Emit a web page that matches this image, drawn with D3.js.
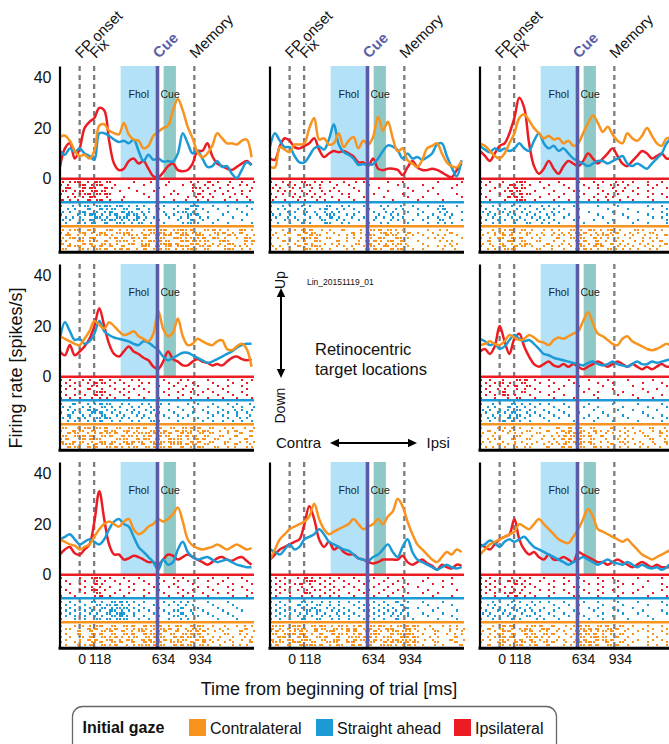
<!DOCTYPE html>
<html><head><meta charset="utf-8">
<script src="https://cdn.jsdelivr.net/npm/d3@7"></script>
<style>body{margin:0;background:#fff}svg{display:block}</style>
</head><body>
<svg id="c" width="669" height="744"></svg>
<script>
// ---------- data ----------
const times = [-160,-120,-80,-40,0,40,80,120,160,200,240,280,320,360,400,440,480,520,560,600,
               640,680,720,760,800,840,880,920,960,1000,1040,1080,1120,1160,1200,1240,1280,1320,1360,1400];
const xDomain = [-160, 1420];
const yDomain = [-29, 44.5];
const yTicks = [0, 20, 40];
const eventTimes = [0, 118, 634, 934];
const eventLabels = ['FP onset', 'Fix', 'Cue', 'Memory'];
const dashedEvents = [0, 118, 934];
const cueTime = 634;
const tickValues = [0, 118, 634, 934];
const tickLabels = ['0', '118', '634', '934'];
const fholWindow = [334, 630];
const cueWindow = [684, 784];
const conditions = ['Contralateral', 'Straight ahead', 'Ipsilateral'];

// PSTH (spikes/s), one value per entry of `times`
const p11Red    = [4.7,12,14,8,12,20,22.5,24,28,27, 15,6,3.4,4,7,8,6,7,4,1, 0.6,2.5,5,6,3.4,3,3.5,6,11,11, 14,9,6,5,4,3.5,4.7,6,7,5.5];
const p11Blue   = [11,9.5,12,10.5,12,10,9,7.5,18,18, 17,15.5,14.5,15,14,15.5,11,7,9.5,7.5, 8,6.8,7,6.8,10,18,14,10,11,8, 4.7,5,7,4.7,5,2,0.3,3.4,6.5,5.3];
const p11Orange = [16.5,17,15,11,9,9.5,8,11,21,21.5, 19,18,17.5,22,17.5,15.5,15,12,13,17, 18.5,20,21,27,31.5,27,20.5,16,10.5,8.5, 10,13,18,16,14,14,13.5,15,15.5,8.5];

const p12Red    = [8,7.5,13,16,15,12.5,12,13,14,16, 11.5,8.6,10,11,10.5,11,10,8.8,6.5,6.5, 5,8,4,3.4,4,4,3.5,1.5,4.5,7, 4.5,3.5,3.5,4,3.5,2.5,1.3,0.6,3.4,6];
const p12Blue   = [12.7,18,15,12.5,12.5,9,6.5,6.5,9,12, 12.7,11.5,15.5,21.5,13.5,10.5,9.5,8,5.5,5.8, 5.5,5.8,8,11,13.2,12.7,11.3,8,10,8, 8.6,7.5,8.5,10,13.5,14,9,4.5,1,7.3];
const p12Orange = [4.7,4.5,12.5,11.5,10.5,13.5,13.5,14,20,24, 15.5,16,13.5,14,18,12.5,15,16.5,12,15, 13.5,16.5,24.5,19,22.5,16,10.8,12,7.3,6, 4.7,7.5,12,13,14,10,6.5,5,4.5,7];

const p13Red    = [11,9,7,10,13,14,18,24,32,28, 14,5,2,4,7,4,2,5,7,6, 5,7,10,8,6,8,10,12,9,6, 5,7,9,11,10,8,9,10,8,8];
const p13Blue   = [13,11.5,10.5,12,11,12,11,12,14,12, 11,15,18,14,12,13,11,12,10,8, 7,6,5,6,7,7,6,7,8,9, 6,5,6,5,4,6,8,10,14,16];
const p13Orange = [14,13,11,9,8,10,14,18,24,25.5, 23,20,18,16,17,15.5,16,14,15,13, 14,18,22,25,22,18.5,20.5,17.5,15,14, 18,16,15,17,20,17,14,13,16,16];

const p21Red    = [10,8.5,12.5,8.5,10,12,15,20,27,20, 13,9,8,10,12,10,9,7.5,6.5,4, 3,6,10,7,6,4.5,4.5,6,7,6, 5.5,4.5,5,4.5,6,7.5,8,7,6.5,7];
const p21Blue   = [15,21.5,18,14.5,15,13,14,17,22,18, 16.5,15.5,15,14.5,14,13,12.5,14,13.5,12, 10.5,8,6.5,7.5,8.5,9.5,9.5,8.5,7.5,6.5, 5.5,6,7,8,9,10,11.5,12.5,13,13];
const p21Orange = [16,15,14,13,12.5,15,18,22,20.5,19, 21.5,20,18,16.5,17,18,16,15,14,17, 26,19,16,17.5,23,16,12.5,13,15,14, 13,12.5,14,14.5,11,10.5,12,13,11,4];

const p23Red    = [10,11,9,12,20,14,9,15,17,12, 8,5,4,5,6,4.5,4,5,4,5, 4,3,4,5,6,5,4,5,6,5, 4,5,4,3,4,3,4,5,4,4];
const p23Blue   = [15,14,12.5,13,11,12,14.5,16.5,15,14, 14.5,13,11,9,8.5,7.5,7,6.5,6,5.5, 5,4.5,5.5,6,5,4.5,5,6,5,4.5, 4,5,6,5,5,6,5.5,6,6.5,7];
const p23Orange = [12.5,13,14,13,12.5,14,16.5,15.5,14.5,15, 16.5,15.5,14,13.5,12.5,14.5,15.5,15,16,17, 18,22,25.5,21,17,16,14.5,13,12.5,15, 16,14,13,12,11,10.5,11,12,13,12];

const p31Red    = [8,10,11,8.5,8,10,12,21,33,22, 12,8,8,6,6.5,7.5,7,6,5,5, 4,6,8,7.5,6,7,8,7,6,5, 4,5,6.5,7,6,5.5,6.5,7,5.5,4];
const p31Blue   = [14,15,16,14,12,13,14,13,12,14, 18,21,22,20,19,15,11,9,7,5, 2,6,4,5,10,13,9,7,6,6.5, 7,6,5,5.5,6,5,4,3.5,3,3];
const p31Orange = [14,13,12,11.5,10,11,12,15,18,20, 21,20,19,21,22,18,16,17,19,20, 22,21,22,24,26.5,21,14,11.5,10.5,10, 10.5,11,12,11,10,11,12,11,10,10.5];

const p32Red    = [6,8,10,11,12,13,14,20,27,22, 14,11,13,10,11,9,8,8,6.5,6, 5,4.5,5,6,6,6,6,7.5,5,4, 5,6,4.5,3.5,2,4,3,2.5,4,3.5];
const p32Blue   = [10,9,8,10,12,10,11,14,15,16, 18,16,13,12,11,10,9.5,8,6.5,6, 5.5,7,8,10,12,9,7,11,14,9, 6,5,4,3,2,3,4,3,2.5,3];
const p32Orange = [6,10,14,16,18,19,20,21,23,28, 22,18,16,17,18,19,20,22,20,18, 19,20,22,20,23,25,30,27,21,16, 12,10,8,6,5,7,9,8,10,9];

const p33Red    = [12,11,10,12,14,15,16,22,14,10, 8,9,7,6,8,6,6,7,6,5, 9,8,7,6,5,5,4,5,6,5, 4,3,4,5,4,3,4,3,3,3];
const p33Blue   = [11,12,13.5,12.5,11,13,14,13,14,15, 13,11,10,9,8,7,6,5,4,5, 6,7,6,5,4,5,6,5,4.5,4, 5,4,3,4,3,2.5,3,2,3,5];
const p33Orange = [8,10,12,13,14,15,16,17,20,19, 18,20,22,20,18,16,14,13,12.5,15, 18,22,26,23,18,17,16,15,14,13, 14,12,10,8,7,6,7,8,9,10];

// Rasters: one string per trial, one digit per 40 ms bin of `times`
// (0 none, 1 spike early in bin, 2 spike late in bin, 3 both)
const r11Red = ["2013120312 1000010020 0010002010 3010200102","1200312230 0100000100 0200010102 0100102010","0310213103 2000100000 1000000320 1020010001","2101302321 0010020001 0001000101 0200100120","1020131213 1000000100 0020100030 2001020100","0201203102 0001000010 0100001201 0100200010","3012021230 1020000000 0001020010 1002001020"];
const r11Blue = ["1020130213 1230120102 0100102310 0100100010","0201021032 2103021010 1001021201 0010001001","2010310201 3021302010 0100130100 1000100100","1002013120 1302130100 0201003210 0001000010","0120100312 0213021201 0010201020 1000010000","2010203021 3120130100 1000102101 0010000100","0102012103 0211203020 0100013010 0100100001"];
const r11Orange = ["2013021102 3012200131 2301332102 1320102301","1200312031 0213102021 3122130320 0213012100","0312010213 2001320312 1330231231 2010320012","2031203100 1320211302 2103322013 0312001230","1102301203 0213012031 3210231322 1023100213","3010213021 1200312210 2332102312 0120310201","0213102130 3021002312 1230331021 3012022010","2100320213 0132120301 3212013302 1002310120"];

const r12Red = ["1020102101 2010010201 0000100100 0000100001","0102010210 1002001000 1000001000 0100000010","2010201020 1001000100 0010000010 0001000100","0201102010 2010100010 0000100001 0010000000","1020010201 0100201000 0100000100 0000100010","0100201020 1020001001 0001000010 0100000001","2001020102 0100100100 0000010000 1000010000"];
const r12Blue = ["1020102010 0210201001 0020102001 0010210010","0201020100 1302010100 1001020100 1000130000","1002010201 0120100010 0102010010 0100201001","2010100102 0211020100 0010201000 1001020100","0102010010 1030102001 0201010100 0010102000","1001020100 2102010010 0100201001 0100210001","0200102010 0310201000 1020100010 0010120100"];
const r12Orange = ["1020012130 2010210020 2130320100 0010201000","0102100321 0201002120 1023201030 1001002100","2001021032 1000120102 3102130201 0100120010","1200102213 0210020120 2031023010 0012010001","0021020103 1002120012 1320312100 1000201100","1002010320 0120100210 3012013200 0100002010","2010021023 1002012001 2103120010 0010120100","0120100312 2010020102 1320213101 0100010200"];

const r13Red = ["1010200231 0010001000 1001010201 0100100100","0100103120 1000100100 0100102010 1000101000","1001020321 0001000010 0010100102 0010010010","0010013210 0100010001 1000010201 0100100001","1000102032 1000100100 0100101010 0010010100","0100021320 0010001000 1001020100 1000100010","0010010231 0100010010 0010101020 0100010001"];
const r13Blue = ["1020102010 1020101001 0000100010 0000100100","0102010201 0201010100 1000001000 1000010010","2010201020 1010201000 0010000100 0010000101","0201020102 0102010010 0000100001 0000100010","1020102010 2010100100 1000010000 1000010100","0102010201 0201010001 0001000100 0010000011","1020100102 1020101000 0100001000 0100100012"];
const r13Orange = ["1020113021 2001201021 2031203120 0211020102","0201302012 1020012012 1302012210 2010210021","2001213002 0201201120 3020131102 0102001210","1012302130 2010021021 2103201010 2001201020","0210023021 0210010102 1302120201 0201012102","2010302013 1002102010 3012302120 1020100210","1020210321 2001201020 2103210012 0102012001","0201032100 0210200102 1320103201 2010201021"];

const r21Red = ["1010201030 1010201000 0100201000 1000100101","0101020321 0101002010 0010100100 0100010010","1010102200 1000101000 1001020010 0010100100","0101021020 0101010100 0010010100 1001000010","1000100231 0010100010 0100102001 0100100100","0101010320 1001001000 0010010010 0010010010","1010102012 0100100100 1000102000 1001001001"];
const r21Blue = ["1021020132 1020102010 2010001010 0100101020","2010201021 2010201020 1000100100 1010010102","0201021302 0102010201 0010010001 0001020101","1020102130 2010201020 1001000100 1010101010","0210201021 0201020102 0100101000 0101001020","2012010213 1020102010 0010010010 1000102010","0201020130 2010201021 1000100001 0101010101"];
const r21Orange = ["2102031213 0210321302 3021032130 2102010202","1021302103 2103120021 1302132013 1020121021","0213020132 1302013213 2130213021 2100102100","2103213021 3021320130 3210321302 1021021021","1300213210 0213021312 1031301213 0210200210","3021302031 2103213021 2131302130 2102102012","2130120321 3012302103 3021321302 1002021020","0213021302 1320130213 2130212031 0210120011"];

const r23Red = ["1010200213 0100100010 0010001000 1000010000","0101301021 0010010001 0000100100 0001000100","1010120302 1000100100 1000010000 0100000010","0102010201 0100001000 0010000100 0001001000","1010210021 0010010000 0100100001 0000100001","0101230100 1000100100 0001000010 0100000100","1001020210 0100010001 0000100000 0010010000"];
const r23Blue = ["1020102120 1010100100 0010000100 0010000100","0201021201 0100010010 0100100001 0000100010","2010120210 1001001000 0001000010 0100001000","0102012102 0100100100 1000010000 0001000001","1020101210 1010010010 0010001001 0000100100","0201021201 0001001000 0100100000 1000010010","1010212010 1000100001 0001000100 0010000100"];
const r23Orange = ["1002012010 2010021032 3021002102 0100210201","0210201002 1002102130 2103201020 1020012010","2001020120 0210020213 3012020102 0201002102","1020100210 2001201321 2130210020 1002102010","0201002102 1020012130 3021020012 0100210201","2010200120 0200120213 2130201021 1020010210","1002120102 2001201302 3021002102 0201020012","0120010201 1002102130 2103201020 1020102001"];

const r31Red = ["1000102310 1001001000 1001010010 0100100100","0100010201 0100100100 0100101000 1001000010","0010100320 0010010010 1001000100 0010010001","1000012010 1000100001 0010100010 1000100100","0100102301 0010010100 1000010100 0100010010","0010010210 0100100010 0100101001 0010100001","1001000130 1001000100 0010010100 1000010010"];
const r31Blue = ["1010102120 2132010100 0101201000 1000100000","0101010212 1320101001 0010120100 0100010000","1010101021 2213010100 1000210010 0010001000","0101012010 3120101010 0101102001 0001000100","1010101202 1231010001 0010210100 1000100000","0101010120 2132010100 1001120010 0100010000","1001010212 1213001010 0010201000 0010001000"];
const r31Orange = ["1001201230 2103210321 3012302131 0102001201","0110021302 1302013201 2130120320 1020100210","1002103021 3021203120 1302103213 0201002102","0102102130 2103210321 3021032130 1002102010","1010203021 1320130213 2103213021 0120010201","0100121302 3012302130 1320130213 2010200120","1001102130 2130210321 3021302103 0102010021","0102013021 1302013213 2103213021 1020012010"];

const r32Red = ["0101020320 1010100100 0100100100 0010000100","1010100231 0101010010 1001001000 0100010000","0101013010 1010001001 0010010010 0001000100","1010102020 0101010100 0100100100 1000010000","0101020201 1010100010 1001001000 0010000010","1010100310 0101001001 0010010010 0100100000","0100102020 1010100100 0100100100 0001000100"];
const r32Blue = ["1010102120 2010101010 0101021010 0100010000","0101021202 1010100101 1010102100 0010000100","1010102021 0201010010 0101010210 1000100000","0101010212 1020101001 1010120100 0001000010","1010101202 0102010100 0101012010 0100010000","0101020120 2010101010 1010201010 0010000100","1010102102 1020101001 0101021001 0000100010"];
const r32Orange = ["2130231021 3120320130 2131203213 1020012010","3012032103 2103221301 3012310232 0201002012","1320113203 0231021302 1320131320 1002102001","2103213120 3021320130 2310213231 0102001201","0231021302 1302103213 3201302313 1020100210","3012302310 2103120321 1320131322 0201002102","2130231021 0213023102 2103213213 1002100210","1302103231 3012302130 3021320132 0102010021"];

const r33Red = ["1010102010 1001000100 1000100100 0010000100","0101021201 0010010010 0100010010 0000100001","1010100320 1000100100 0010100001 0100000100","0101012001 0100010001 1000010010 0001000010","1010100120 0010100100 0100100100 0010000100","0101013010 1000010010 0010010001 0100010000","1001020301 0100100001 1000100010 0000100010"];
const r33Blue = ["1020102010 2010100100 0100100010 0010000100","0201020102 0100010010 1000010001 0000100010","1020102010 1001001000 0010100100 0100000001","0102010201 2010010001 0001000010 0001000100","2010201020 0100100100 1000010001 0010000010","0201020102 1010010010 0100100100 0000100001","1020102010 0201001000 0010010000 1000010000"];
const r33Orange = ["1020213002 2130210201 3210321021 0100100102","0210302013 1023101020 2132103210 1001010010","2001231021 3012020102 1320132102 0010100101","1012302103 2103210201 3213012021 0100010010","0201213002 1320101020 2123130210 1000101001","2010320130 3012020102 1302132102 0010010100","1002210321 2103210201 3231021021 0100100011","0210301230 1302100120 2132103210 1000101010"];

// ---------- layout / style ----------
const FONT = "'Liberation Sans', Arial, Helvetica, sans-serif";
const COL = {orange: '#F7931E', blue: '#1B9AD6', red: '#EC1C24'};
const colX = [60, 270, 480];
const rowY = [66, 264, 462];
const panelW = 194, panelH = 186.3;

const panels = [
  {row:0,col:0,red:p11Red,blue:p11Blue,orange:p11Orange,rr:r11Red,rb:r11Blue,ro:r11Orange},
  {row:0,col:1,red:p12Red,blue:p12Blue,orange:p12Orange,rr:r12Red,rb:r12Blue,ro:r12Orange},
  {row:0,col:2,red:p13Red,blue:p13Blue,orange:p13Orange,rr:r13Red,rb:r13Blue,ro:r13Orange},
  {row:1,col:0,red:p21Red,blue:p21Blue,orange:p21Orange,rr:r21Red,rb:r21Blue,ro:r21Orange},
  {row:1,col:2,red:p23Red,blue:p23Blue,orange:p23Orange,rr:r23Red,rb:r23Blue,ro:r23Orange},
  {row:2,col:0,red:p31Red,blue:p31Blue,orange:p31Orange,rr:r31Red,rb:r31Blue,ro:r31Orange},
  {row:2,col:1,red:p32Red,blue:p32Blue,orange:p32Orange,rr:r32Red,rb:r32Blue,ro:r32Orange},
  {row:2,col:2,red:p33Red,blue:p33Blue,orange:p33Orange,rr:r33Red,rb:r33Blue,ro:r33Orange},
];

function parseRaster(rows) {
  const out = [];
  rows.forEach((s, r) => {
    s.replace(/\s/g, '').split('').forEach((ch, i) => {
      const d = +ch;
      if (d & 1) out.push({row: r, t: times[i] + 5});
      if (d & 2) out.push({row: r, t: times[i] + 24});
    });
  });
  return out;
}

const svg = d3.select('#c').attr('font-family', FONT);
svg.append('rect').attr('width', 669).attr('height', 744).attr('fill', '#fff');

panels.forEach(p => {
  const x0 = colX[p.col], top = rowY[p.row];
  const x = d3.scaleLinear().domain(xDomain).range([x0, x0 + panelW]);
  const y = d3.scaleLinear().domain(yDomain).range([top + panelH, top]);
  const y0 = y(0), bottom = top + panelH;
  const g = svg.append('g');

  // epochs
  g.append('rect').attr('x', x(fholWindow[0])).attr('y', top)
    .attr('width', x(fholWindow[1]) - x(fholWindow[0])).attr('height', y0 - top).attr('fill', '#B3E1F7');
  g.append('rect').attr('x', x(cueWindow[0])).attr('y', top)
    .attr('width', x(cueWindow[1]) - x(cueWindow[0])).attr('height', y0 - top).attr('fill', '#8FC9C7');
  g.append('text').text('Fhol').attr('x', (x(fholWindow[0]) + x(fholWindow[1])) / 2).attr('y', top + 32)
    .attr('text-anchor', 'middle').attr('font-size', 10.5).attr('fill', '#222');
  g.append('text').text('Cue').attr('x', x(cueTime) + 3).attr('y', top + 32)
    .attr('font-size', 10.5).attr('fill', '#222');

  // dashed event lines
  g.selectAll('line.ev').data(dashedEvents).join('line').attr('class', 'ev')
    .attr('x1', d => x(d)).attr('x2', d => x(d)).attr('y1', top).attr('y2', bottom)
    .attr('stroke', '#7C7C7C').attr('stroke-width', 2.3).attr('stroke-dasharray', '5,4');

  // rasters
  const bands = [
    {rows: p.rr, color: COL.red, off: 0, sp: 2.9},
    {rows: p.rb, color: COL.blue, off: 23.5, sp: 2.9},
    {rows: p.ro, color: COL.orange, off: 47.5, sp: 2.75},
  ];
  bands.forEach(b => {
    g.append('g').selectAll('rect').data(parseRaster(b.rows)).join('rect')
      .attr('x', d => x(d.t) - 1).attr('y', d => y0 + b.off + 2.5 + d.row * b.sp)
      .attr('width', 2).attr('height', 2.2).attr('fill', b.color).attr('shape-rendering', 'crispEdges');
  });
  bands.forEach(b => {
    g.append('line').attr('x1', x0).attr('x2', x0 + panelW).attr('y1', y0 + b.off).attr('y2', y0 + b.off)
      .attr('stroke', b.color).attr('stroke-width', 2.6);
  });

  // PSTH
  const line = d3.line().x((d, i) => x(times[i])).y(d => y(d)).curve(d3.curveCatmullRom.alpha(0.5));
  [['red', COL.red], ['blue', COL.blue], ['orange', COL.orange]].forEach(([k, c]) => {
    g.append('path').attr('d', line(p[k])).attr('fill', 'none').attr('stroke', c)
      .attr('stroke-width', 2.5).attr('stroke-linejoin', 'round');
  });

  // cue line
  g.append('line').attr('x1', x(cueTime)).attr('x2', x(cueTime)).attr('y1', top).attr('y2', bottom)
    .attr('stroke', '#5B5CA8').attr('stroke-width', 3.6);

  // y axis
  const ya = d3.axisLeft(y).tickValues(p.col === 0 ? yTicks : []).tickSize(0).tickSizeOuter(0).tickPadding(8);
  const yg = g.append('g').attr('transform', `translate(${x0 - 0.5},0)`).call(ya);
  yg.select('.domain').attr('stroke', '#000').attr('stroke-width', 2.2);
  yg.selectAll('text').attr('font-family', FONT).attr('font-size', 16).attr('fill', '#111');

  // x axis
  const xa = d3.axisBottom(x).tickValues(p.row === 2 ? tickValues : []).tickSize(0).tickSizeOuter(0)
    .tickPadding(5.5).tickFormat((d, i) => tickLabels[i]);
  const xg = g.append('g').attr('transform', `translate(0,${bottom})`).call(xa);
  xg.select('.domain').attr('stroke', '#000').attr('stroke-width', 3).attr('d', `M${x0 - 1.5},0H${x0 + panelW}`);
  xg.selectAll('text').attr('font-family', FONT).attr('font-size', 14).attr('fill', '#111')
    .attr('dx', d => d === 0 ? 2 : 5.5);

  // event labels on top row
  if (p.row === 0) {
    eventTimes.forEach((t, i) => {
      const isCue = eventLabels[i] === 'Cue';
      g.append('text').text(eventLabels[i])
        .attr('transform', `translate(${x(t) + 1.5},${top - 7}) rotate(-45)`)
        .attr('font-size', 15).attr('font-weight', isCue ? 'bold' : 'normal')
        .attr('fill', isCue ? '#5B5EA6' : '#111');
    });
  }
});

// ---------- centre cell ----------
const cg = svg.append('g').attr('fill', '#111');
cg.append('text').text('Lin_20151119_01').attr('x', 307).attr('y', 284.5).attr('font-size', 8.5);
function arrowHead(g, x, y, ang) {
  g.append('path').attr('d', 'M0,0L-9,-4.2L-9,4.2Z').attr('fill', '#000')
    .attr('transform', `translate(${x},${y}) rotate(${ang})`);
}
cg.append('line').attr('x1', 281).attr('x2', 281).attr('y1', 294).attr('y2', 372).attr('stroke', '#000').attr('stroke-width', 2);
arrowHead(cg, 281, 288, -90); arrowHead(cg, 281, 378, 90);
cg.append('line').attr('x1', 336).attr('x2', 411).attr('y1', 443).attr('y2', 443).attr('stroke', '#000').attr('stroke-width', 2);
arrowHead(cg, 330, 443, 180); arrowHead(cg, 417, 443, 0);
cg.append('text').text('Up').attr('transform', 'translate(285,289) rotate(-90)').attr('font-size', 14);
cg.append('text').text('Down').attr('transform', 'translate(285,423.5) rotate(-90)').attr('font-size', 14);
cg.append('text').text('Retinocentric').attr('x', 315).attr('y', 355).attr('font-size', 16.5);
cg.append('text').text('target locations').attr('x', 315).attr('y', 374.5).attr('font-size', 16.5);
cg.append('text').text('Contra').attr('x', 276).attr('y', 448).attr('font-size', 15);
cg.append('text').text('Ipsi').attr('x', 426.5).attr('y', 448).attr('font-size', 15);

// ---------- axis titles ----------
svg.append('text').text('Firing rate [spikes/s]').attr('transform', 'translate(22,368) rotate(-90)')
  .attr('text-anchor', 'middle').attr('font-size', 18).attr('fill', '#111');
svg.append('text').text('Time from beginning of trial [ms]').attr('x', 329).attr('y', 695)
  .attr('text-anchor', 'middle').attr('font-size', 18).attr('fill', '#111');

// ---------- legend ----------
const lg = svg.append('g');
lg.append('rect').attr('x', 72.5).attr('y', 706.5).attr('width', 484).attr('height', 60).attr('rx', 10)
  .attr('fill', 'none').attr('stroke', '#666').attr('stroke-width', 1.3);
lg.append('text').text('Initial gaze').attr('x', 82.5).attr('y', 733).attr('font-size', 16)
  .attr('font-weight', 'bold').attr('fill', '#111');
const legendColors = [COL.orange, COL.blue, COL.red];
const legendX = [189, 316, 454];
conditions.forEach((c, i) => {
  lg.append('rect').attr('x', legendX[i]).attr('y', 719).attr('width', 17).attr('height', 17).attr('fill', legendColors[i]);
  lg.append('text').text(c).attr('x', legendX[i] + 21).attr('y', 734).attr('font-size', 16).attr('fill', '#111');
});
</script>
</body></html>
